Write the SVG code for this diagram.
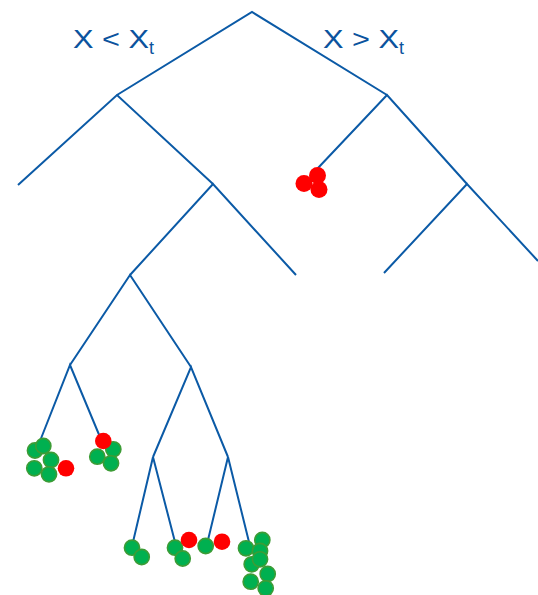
<svg xmlns="http://www.w3.org/2000/svg" width="538" height="595" viewBox="0 0 538 595">
<style>
.br{stroke:#0b5aa6;stroke-width:2;fill:none;stroke-linecap:butt}
.g{fill:#00b050;stroke:#3c9c36;stroke-width:1.6}
.r{fill:#ff0000}
.lbl{font-family:"Liberation Sans",Arial,sans-serif;fill:#0b539e}
</style>
<rect width="538" height="595" fill="#ffffff"/>
<g id="connectors" class="br">
<polyline points="117,95 252,12 387,95"/>
<polyline points="18,185 117,95 213,184"/>
<polyline points="318,168 387,95 467,184"/>
<polyline points="130,275 213,184 296,275"/>
<polyline points="384,273 467,184 538,261"/>
<polyline points="70,365 130,275 191,367"/>
<polyline points="40,441 70,365 100,437"/>
<polyline points="153,457 191,367 228,457"/>
<polyline points="133,542 153,457 175,542"/>
<polyline points="208,540 228,457 249,542"/>
</g>
<g id="label-left" class="lbl">
<text x="73" y="48" font-size="26.5" textLength="76" lengthAdjust="spacingAndGlyphs">X &lt; X</text>
<text x="149" y="54" font-size="18">t</text>
</g>
<g id="label-right" class="lbl">
<text x="323" y="48" font-size="26.5" textLength="76" lengthAdjust="spacingAndGlyphs">X &gt; X</text>
<text x="399" y="54" font-size="18">t</text>
</g>
<g id="leaf-red-top">
<circle class="r" cx="304" cy="183.5" r="8.5"/>
<circle class="r" cx="317.5" cy="175.5" r="8.5"/>
<circle class="r" cx="319" cy="189.5" r="8.5"/>
</g>
<g id="leaf-1">
<circle class="g" cx="35" cy="450.5" r="7.6"/>
<circle class="g" cx="43.3" cy="446" r="7.6"/>
<circle class="g" cx="51" cy="460" r="7.6"/>
<circle class="g" cx="34.3" cy="468.3" r="7.6"/>
<circle class="g" cx="49" cy="474.3" r="7.6"/>
<circle class="r" cx="66" cy="468.3" r="8.3"/>
</g>
<g id="leaf-2">
<circle class="g" cx="113.3" cy="449.3" r="7.6"/>
<circle class="g" cx="97.3" cy="456.7" r="7.6"/>
<circle class="g" cx="111" cy="463.3" r="7.6"/>
<circle class="r" cx="103.3" cy="441" r="8.3"/>
</g>
<g id="leaf-3">
<circle class="g" cx="132" cy="547.7" r="7.6"/>
<circle class="g" cx="141.7" cy="557" r="7.6"/>
</g>
<g id="leaf-4">
<circle class="g" cx="175" cy="547.7" r="7.6"/>
<circle class="g" cx="182.7" cy="558.5" r="7.6"/>
<circle class="r" cx="189" cy="540" r="8.3"/>
</g>
<g id="leaf-5">
<circle class="g" cx="205.7" cy="546" r="7.6"/>
<circle class="r" cx="222" cy="541.7" r="8.3"/>
</g>
<g id="leaf-6">
<circle class="g" cx="262.3" cy="540" r="7.6"/>
<circle class="g" cx="246" cy="548.3" r="7.6"/>
<circle class="g" cx="260" cy="551" r="7.6"/>
<circle class="g" cx="251.7" cy="564.3" r="7.6"/>
<circle class="g" cx="260" cy="559.3" r="7.6"/>
<circle class="g" cx="267.7" cy="574" r="7.6"/>
<circle class="g" cx="250.7" cy="581.7" r="7.6"/>
<circle class="g" cx="265.7" cy="588.3" r="7.6"/>
</g>
</svg>
